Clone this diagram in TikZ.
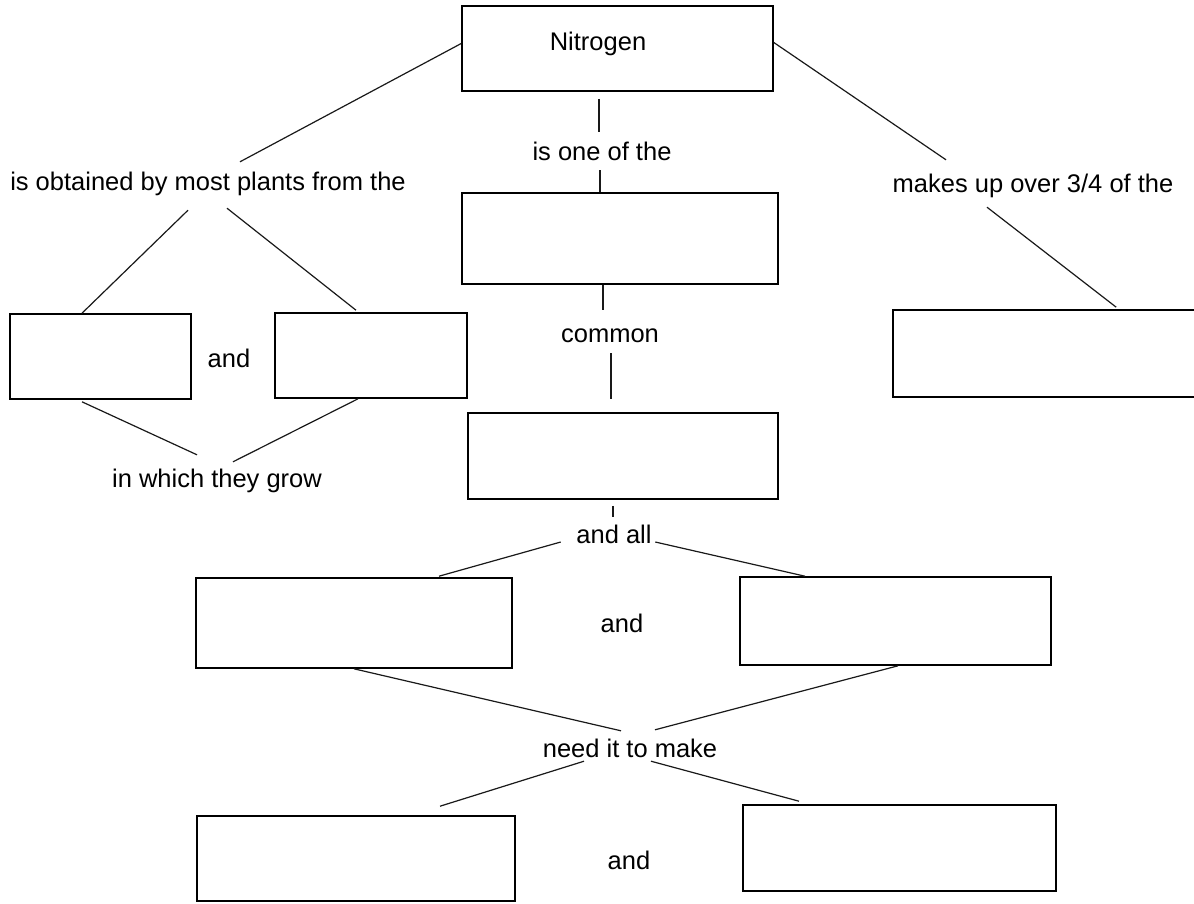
\documentclass[tikz,border=0pt]{standalone}
\usepackage{fontspec}
\setmainfont{Liberation Sans}
\usetikzlibrary{calc}
\begin{document}
\begin{tikzpicture}[x=1pt,y=-1pt,
  every node/.style={font=\fontsize{25.5}{30}\selectfont},
  box/.style={draw=black, line width=1.6pt, inner sep=0pt, rectangle},
  lbl/.style={inner sep=0pt, text height=18pt, text depth=5pt},
  conn/.style={line width=1.2pt, draw=black!90}]
\useasboundingbox (0,0) rectangle (1194,903);
\fill[white] (0,0) rectangle (1194,903);
\clip (0,0) rectangle (1194,903);

% boxes
\node[box, minimum width=311pt, minimum height=85pt,
  label={[lbl, xshift=-19.5pt, yshift=5pt]center:Nitrogen}] (nitrogen) at (617.5,48.5) {};
\node[box, minimum width=316pt, minimum height=91pt] (btwo) at (620,238.5) {};
\node[box, minimum width=310pt, minimum height=86pt] (bthree) at (623,456) {};
\node[box, minimum width=181pt, minimum height=85pt] (lone) at (100.5,356.5) {};
\node[box, minimum width=192pt, minimum height=85pt] (ltwo) at (371,355.5) {};
\node[box, minimum width=321pt, minimum height=87pt] (rbox) at (1053.5,353.5) {};
\node[box, minimum width=316pt, minimum height=90pt] (mone) at (354,623) {};
\node[box, minimum width=311pt, minimum height=88pt] (mtwo) at (895.5,621) {};
\node[box, minimum width=318pt, minimum height=85pt] (bone) at (356,858.5) {};
\node[box, minimum width=313pt, minimum height=86pt] (bbr) at (899.5,848) {};

% labels
\node[lbl] (obt) at (208,183.5) {is obtained by most plants from the};
\node[lbl] (makes) at (1033,185.5) {makes up over 3/4 of the};
\node[lbl] (oneof) at (602,153.5) {is one of the};
\node[lbl] (common) at (610,335.5) {common};
\node[lbl] (andall) at (614,536.5) {and all};
\node[lbl] (needit) at (630,750.5) {need it to make};
\node[lbl] (andl) at (229,360.5) {and};
\node[lbl] (andm) at (622,625.5) {and};
\node[lbl] (andb) at (629,863) {and};
\node[lbl] (grow) at (217,481) {in which they grow};

% connectors
\draw[conn] ($(nitrogen.west)+(0,-5)$) -- ($(obt.north)+(32,-10)$);
\draw[conn] ($(nitrogen.east)+(0,-6)$) -- ($(makes.north)+(-87,-14)$);
\draw[conn] ($(nitrogen.south -| oneof.north)+(-3,7)$) -- ($(oneof.north)+(-3,-10)$);
\draw[conn] ($(oneof.south)+(-2,5)$) -- ($(btwo.north -| oneof.south)+(-2,0)$);
\draw[conn] ($(btwo.south -| common.north)+(-7,0)$) -- ($(common.north)+(-7,-14)$);
\draw[conn] ($(common.south)+(1,6)$) -- ($(bthree.north -| common.south)+(1,-13)$);
\draw[conn] ($(bthree.south -| andall.north)+(-1,6)$) -- ($(andall.north)+(-1,-8)$);
\draw[conn] ($(andall.west)+(-15.5,5.5)$) -- ($(mone.north)+(85,-1)$);
\draw[conn] ($(andall.east)+(3.5,5.5)$) -- ($(mtwo.north)+(-90.5,0)$);
\draw[conn] (mone.south) -- ($(needit.north)+(-9,-8)$);
\draw[conn] ($(mtwo.south)+(2.5,0)$) -- ($(needit.north)+(25,-9)$);
\draw[conn] ($(needit.south)+(-46,-1)$) -- ($(bone.north)+(84,-9)$);
\draw[conn] ($(needit.south)+(21,-1)$) -- ($(bbr.north)+(-100.5,-3)$);
\draw[conn] ($(obt.south)+(-20,15)$) -- ($(lone.north)+(-18.5,0)$);
\draw[conn] ($(obt.south)+(19,13)$) -- ($(ltwo.north)+(-15,-2)$);
\draw[conn] ($(lone.south)+(-18.5,2)$) -- ($(grow.north)+(-20,-14.5)$);
\draw[conn] ($(ltwo.south)+(-13,0)$) -- ($(grow.north)+(16,-7.5)$);
\draw[conn] ($(makes.south)+(-46,10)$) -- ($(rbox.north west)+(224,-2)$);
\end{tikzpicture}
\end{document}
